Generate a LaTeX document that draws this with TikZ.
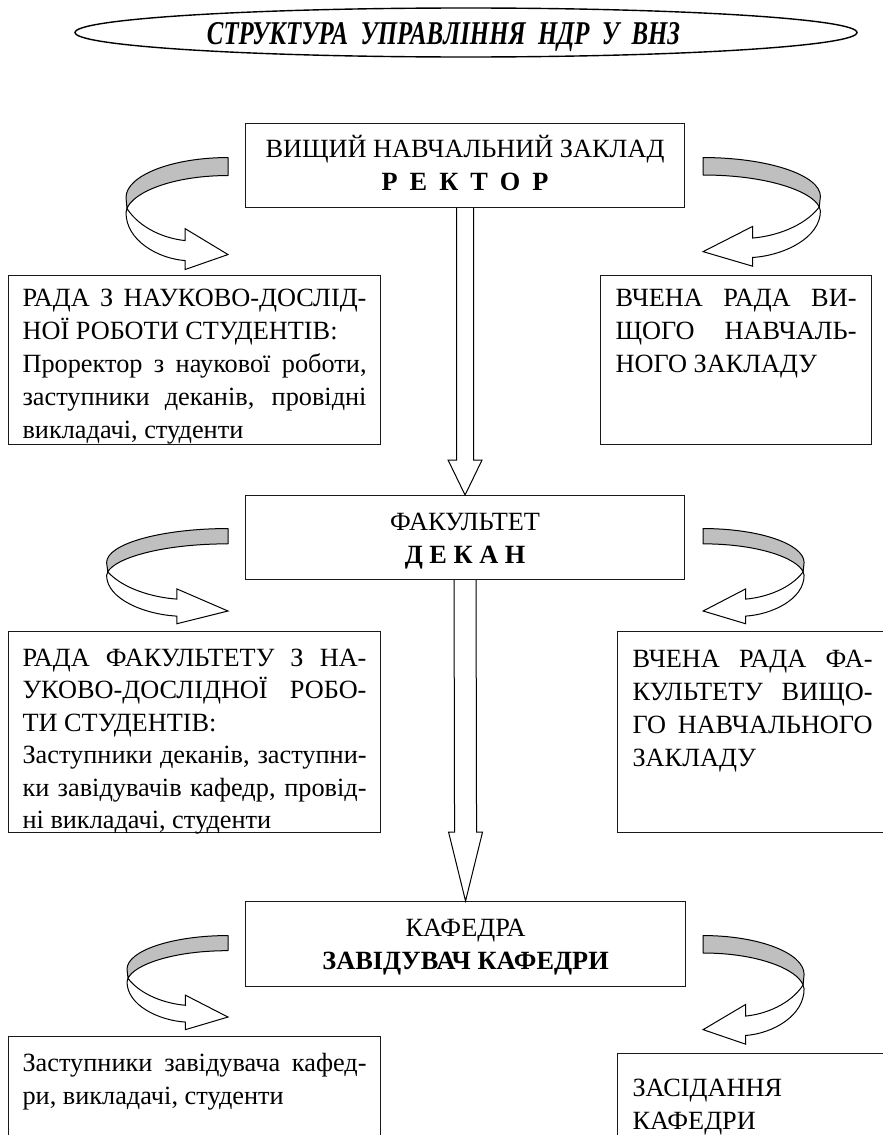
\documentclass[tikz,border=0pt]{standalone}
\usepackage{fontspec}
\usepackage{graphicx}
\setmainfont{Liberation Serif}
\usetikzlibrary{calc,shapes.geometric}
\newcommand\jl[1]{\makebox[\linewidth][s]{#1}}
\newcommand\jw[2]{\makebox[#1][s]{#2}}
\newcommand\ribbon[3]{%
  \begin{scope}[shift={#1}, xscale=#2, yscale=#3]
    \path[ribbonback] (0,0) .. controls (56,0) and (102,18) .. (102,40) -- (101,51)
      .. controls (95,35) and (56,18) .. (0,18) -- cycle;
    \path[ribbonfront] (101,51) .. controls (88,71) and (63,81) .. (43,83) -- (43,71)
      -- (0,97) -- (43,112) -- (43,103) .. controls (70,101) and (102,83) .. (102,55) -- cycle;
  \end{scope}}
\tikzset{
  panel/.style={draw=black!90, line width=1.1pt, anchor=north west, inner xsep=#1, inner ysep=0pt,
    font=\fontsize{26.3pt}{33pt}\selectfont},
  panel/.default=14pt,
  titleframe/.style={draw=black, line width=1.4pt, ellipse, minimum width=782pt, minimum height=49pt, inner sep=0pt},
  titletext/.style={anchor=base, inner sep=0pt, font=\fontsize{30pt}{36pt}\selectfont\bfseries\itshape},
  ribbonback/.style={draw=black, line width=1pt, fill=black!25, line join=round},
  ribbonfront/.style={draw=black, line width=1pt, fill=white, line join=miter},
  blockarrow/.style={draw=black, line width=1pt, fill=white, line join=miter},
}
\begin{document}
\begin{tikzpicture}[x=1pt,y=-1pt]
\useasboundingbox (0,0) rectangle (883,1135);
\clip (0,0) rectangle (883,1135);
\fill[white] (0,0) rectangle (883,1135);

% title
\node[titleframe] (title) at (466,32.5) {};
\node[titletext] (ttl) at (443.5,44) {\resizebox{473pt}{22pt}{СТРУКТУРА\ \ УПРАВЛІННЯ\ \ НДР\ \ У\ \ ВНЗ}};

% central boxes
\node[panel] (rector) at (245,123) {\parbox[t][84pt][t]{411pt}{\centering\rule{0pt}{34pt}ВИЩИЙ НАВЧАЛЬНИЙ ЗАКЛАД\\
  \textbf{Р\hspace{12pt}Е\hspace{12pt}К\hspace{12pt}Т\hspace{12pt}О\hspace{12pt}Р}}};
\node[panel] (dean) at (245,495) {\parbox[t][84pt][t]{411pt}{\centering\rule{0pt}{35pt}ФАКУЛЬТЕТ\\
  \textbf{Д Е К А Н}}};
\node[panel] (kaf) at (245,901) {\parbox[t][85pt][t]{412pt}{\centering\rule{0pt}{35pt}КАФЕДРА\\
  \textbf{ЗАВІДУВАЧ КАФЕДРИ}}};

% side boxes
\node[panel] (lb1) at (8,275) {\parbox[t][169pt][t]{344pt}{\rule{0pt}{31pt}\jl{РАДА З НАУКОВО-ДОСЛІД-}\\
  НОЇ РОБОТИ СТУДЕНТІВ:\\
  \jl{Проректор з наукової роботи,}\\
  \jl{заступники деканів, провідні}\\
  викладачі, студенти}};
\node[panel=15pt] (rb1) at (600,275) {\parbox[t][169pt][t]{241pt}{\rule{0pt}{31pt}\jl{ВЧЕНА РАДА ВИ-}\\
  \jl{ЩОГО НАВЧАЛЬ-}\\
  НОГО ЗАКЛАДУ}};
\node[panel] (lb2) at (8,631) {\parbox[t][201pt][t]{344pt}{\fontsize{26.3pt}{32.4pt}\selectfont\rule{0pt}{35pt}\jl{РАДА ФАКУЛЬТЕТУ З НА-}\\
  \jl{УКОВО-ДОСЛІДНОЇ РОБО-}\\
  ТИ СТУДЕНТІВ:\\
  \jl{Заступники деканів, заступни-}\\
  \jl{ки завідувачів кафедр, провід-}\\
  ні викладачі, студенти}};
\node[panel=15pt] (rb2) at (617,631) {\parbox[t][201pt][t]{300pt}{\rule{0pt}{36pt}\jw{240pt}{ВЧЕНА РАДА ФА-}\\
  \jw{240pt}{КУЛЬТЕТУ ВИЩО-}\\
  \jw{240pt}{ГО НАВЧАЛЬНОГО}\\
  ЗАКЛАДУ}};
\node[panel] (lb3) at (8,1036) {\parbox[t][160pt][t]{344pt}{\rule{0pt}{35pt}\jl{Заступники завідувача кафед-}\\
  ри, викладачі, студенти}};
\node[panel=15pt] (rb3) at (617,1053) {\parbox[t][160pt][t]{300pt}{\rule{0pt}{43pt}ЗАСІДАННЯ\\
  КАФЕДРИ}};

% vertical block arrows
\draw[blockarrow] ($(rector.south)+(-8.5,0)$) -- ($(dean.north)+(-8.5,-35)$) -- ($(dean.north)+(-17,-35)$)
  -- (dean.north) -- ($(dean.north)+(17,-35)$) -- ($(dean.north)+(8.5,-35)$) -- ($(rector.south)+(8.5,0)$);
\draw[blockarrow] ($(dean.south)+(-11,0)$) -- ($(kaf.north)+(-11,-69)$) -- ($(kaf.north)+(-17,-69)$)
  -- (kaf.north) -- ($(kaf.north)+(17,-69)$) -- ($(kaf.north)+(11,-69)$) -- ($(dean.south)+(11,0)$);

% curved ribbon arrows
\ribbon{($(rector.west)+(-17,-8)$)}{-1}{1}
\ribbon{($(rector.east)+(18,-8)$)}{1.15}{0.97}
\ribbon{($(dean.west)+(-17,-9)$)}{-1.19}{0.85}
\ribbon{($(dean.east)+(18,-9)$)}{0.99}{0.85}
\ribbon{($(kaf.west)+(-17,-8.5)$)}{-0.99}{0.84}
\ribbon{($(kaf.east)+(17,-8.5)$)}{0.99}{0.97}
\end{tikzpicture}
\end{document}
